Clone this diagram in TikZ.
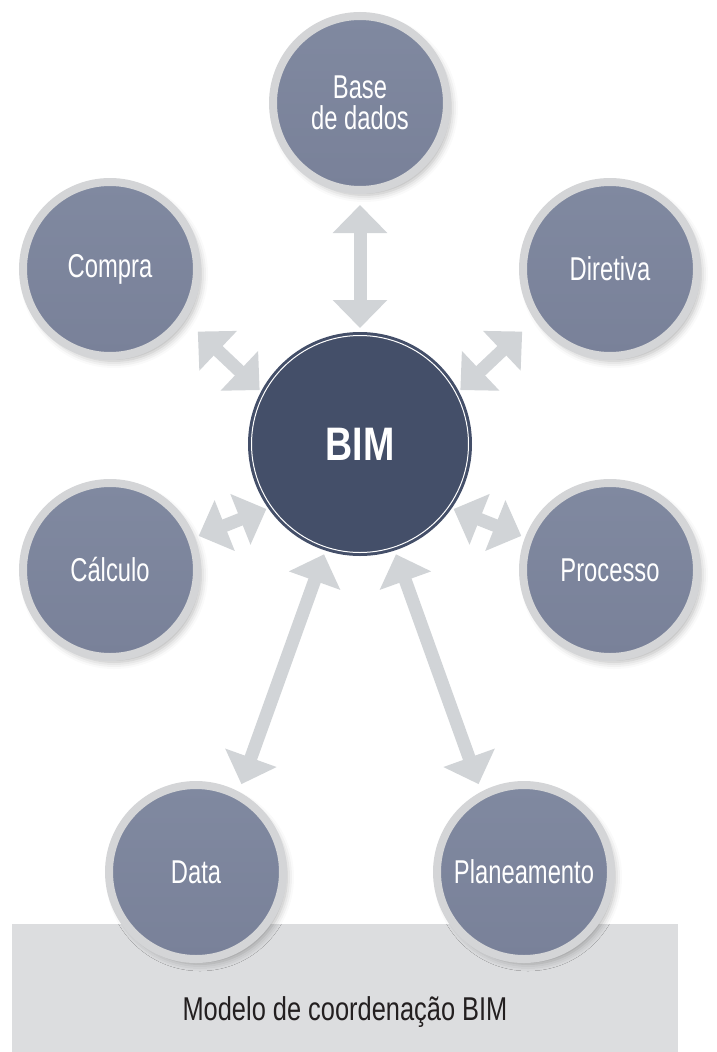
\documentclass[tikz,border=0pt]{standalone}
\usepackage{fontspec}
\setmainfont{Liberation Sans}[FakeStretch=0.72]
\newfontfamily\capfont{Liberation Sans}[FakeStretch=0.77]
\newfontfamily\bimfont{Liberation Sans}[FakeStretch=0.8]
\usepackage{xcolor}
\usepackage{tikz}
\usetikzlibrary{arrows.meta}
\usetikzlibrary{shadows.blur}
\definecolor{bimdark}{HTML}{444F69}
\definecolor{ringgray}{HTML}{D4D5D7}
\definecolor{topfill}{HTML}{8089A0}
\definecolor{botfill}{HTML}{798199}
\definecolor{arrowgray}{HTML}{D1D4D7}
\definecolor{boxgray}{HTML}{DCDDDF}
\definecolor{boxtext}{HTML}{231F20}
\tikzset{
	topic/.style={circle,minimum size=174pt,line width=8pt,draw=ringgray,
		top color=topfill,bottom color=botfill,text=white,align=center,
		font=\fontsize{33}{31}\selectfont,
		blur shadow={shadow xshift=4pt,shadow yshift=-5pt,shadow blur radius=7pt,shadow opacity=30}},
	core/.style={circle,minimum size=224pt,outer sep=0pt,fill=bimdark,text=white,
		font=\fontsize{47}{47}\bimfont\bfseries},
	link/.style={arrowgray,line width=13pt,
		{Triangle[width=53pt,length=28pt]}-{Triangle[width=53pt,length=28pt]}}
}

\begin{document}
\begin{tikzpicture}[x=1pt,y=-1pt]
	\useasboundingbox (0,0) rectangle (716,1052);
	\fill[boxgray] (12,924) rectangle (678,1052);
	\node[anchor=base,text=boxtext,font=\fontsize{33}{33}\capfont] (caption) at (345,1020) {Modelo de coordenação BIM};
	\node[topic] (base) at (360,103) {Base\\de dados};
	\node[topic] (compra) at (110,269) {Compra};
	\node[topic] (diretiva) at (610,269) {Diretiva};
	\node[topic] (calculo) at (110,570) {Cálculo};
	\node[topic] (processo) at (610,570) {Processo};
	\node[topic] (data) at (196,872) {Data};
	\node[topic] (plan) at (524,872) {Planeamento};
	\node[core] (bim) at (360,444) {BIM};
	\draw[white,line width=1pt] (bim.center) circle (108.5pt);
	\draw[link,shorten <=4pt,shorten >=11pt] (bim.90) -- (base.270);
	\draw[link,shorten <=2pt,shorten >=17pt] (bim.28) -- (diretiva.214);
	\draw[link,shorten <=2pt,shorten >=17pt] (bim.152) -- (compra.326);
	\draw[link,shorten <=2pt,shorten >=4pt] (bim.215) -- (calculo.21);
	\draw[link,shorten <=2pt,shorten >=4pt] (bim.325) -- (processo.159);
	\draw[link,shorten <=4pt,shorten >=8pt] (bim.252) -- (data.62);
	\draw[link,shorten <=4pt,shorten >=8pt] (bim.288) -- (plan.118);
\end{tikzpicture}
\end{document}
